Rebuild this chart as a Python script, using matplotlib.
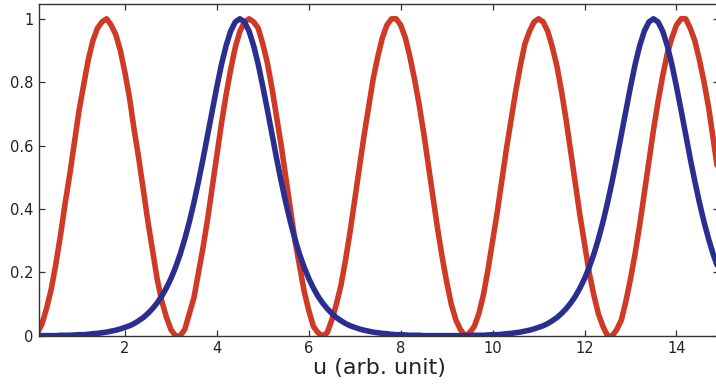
import numpy as np
import matplotlib
matplotlib.use("Agg")
import matplotlib.pyplot as plt
from matplotlib.ticker import FormatStrFormatter

# sample grid u = 0.0, 0.1, ... 15.0
u = np.linspace(0, 15, 151)

# red curve
red_y = [
    0.00, 0.01, 0.04, 0.09, 0.15, 0.23, 0.32, 0.42, 0.51, 0.61, 0.71, 0.79, 0.87, 0.93, 0.97, 0.99,
    1.00, 0.98, 0.95, 0.90, 0.83, 0.75, 0.65, 0.56, 0.46, 0.36, 0.27, 0.18, 0.11, 0.06, 0.02, 0.00,
    0.00, 0.02, 0.07, 0.12, 0.20, 0.28, 0.37, 0.47, 0.57, 0.67, 0.76, 0.84, 0.91, 0.96, 0.99, 1.00,
    0.99, 0.97, 0.92, 0.86, 0.78, 0.69, 0.60, 0.50, 0.40, 0.30, 0.22, 0.14, 0.08, 0.03, 0.01,
    0.00, 0.01, 0.05, 0.10, 0.16, 0.24, 0.33, 0.43, 0.53, 0.63, 0.72, 0.81, 0.88, 0.94, 0.98, 1.00,
    1.00, 0.98, 0.94, 0.88, 0.81, 0.73, 0.64, 0.54, 0.44, 0.34, 0.25, 0.17, 0.10, 0.05, 0.02, 0.00,
    0.01, 0.03, 0.07, 0.13, 0.21, 0.30, 0.39, 0.49, 0.59, 0.68, 0.77, 0.85, 0.92, 0.96, 0.99, 1.00,
    0.99, 0.96, 0.91, 0.85, 0.77, 0.68, 0.58, 0.48, 0.38, 0.29, 0.20, 0.13, 0.07, 0.03, 0.00,
    0.00, 0.02, 0.05, 0.11, 0.18, 0.26, 0.35, 0.45, 0.55, 0.65, 0.74, 0.82, 0.89, 0.94, 0.98, 1.00,
    1.00, 0.97, 0.93, 0.87, 0.80, 0.72, 0.62, 0.52, 0.42,
]

# blue curve
blue_y = [
    0.001, 0.001, 0.001, 0.001, 0.001, 0.001, 0.002, 0.002, 0.002, 0.003, 0.004, 0.004, 0.005,
    0.007, 0.008, 0.010, 0.012, 0.015, 0.018, 0.022, 0.027, 0.032, 0.039, 0.048, 0.058, 0.071,
    0.086, 0.104, 0.125, 0.151, 0.181, 0.216, 0.257, 0.305, 0.359, 0.420, 0.487, 0.559, 0.635,
    0.712, 0.786, 0.856, 0.915, 0.961, 0.990, 1.000,
    0.990, 0.961, 0.915, 0.856, 0.786, 0.712, 0.635, 0.559, 0.487, 0.420, 0.359, 0.305, 0.257,
    0.216, 0.181, 0.151, 0.125, 0.104, 0.086, 0.071, 0.058, 0.048, 0.039, 0.032, 0.027, 0.022,
    0.018, 0.015, 0.012, 0.010, 0.008, 0.007, 0.005, 0.004, 0.004, 0.003, 0.002, 0.002, 0.002,
    0.001, 0.001, 0.001, 0.001, 0.001, 0.001,
    0.001, 0.001, 0.001, 0.001, 0.001, 0.002, 0.002, 0.002, 0.003, 0.004, 0.004, 0.005, 0.007,
    0.008, 0.010, 0.012, 0.015, 0.018, 0.022, 0.027, 0.032, 0.039, 0.048, 0.058, 0.071, 0.086,
    0.104, 0.125, 0.151, 0.181, 0.216, 0.257, 0.305, 0.359, 0.420, 0.487, 0.559, 0.635, 0.712,
    0.786, 0.856, 0.915, 0.961, 0.990, 1.000,
    0.990, 0.961, 0.915, 0.856, 0.786, 0.712, 0.635, 0.559, 0.487, 0.420, 0.359, 0.305, 0.257,
    0.216, 0.181,
]

xticks = [2, 4, 6, 8, 10, 12, 14]
yticks = [0, 0.2, 0.4, 0.6, 0.8, 1]

plt.rcParams['font.family'] = ['DejaVu Sans']
txt = '#222222'

fig = plt.figure(figsize=(7.16, 3.87), dpi=100)
ax = fig.add_axes([0.0545, 0.132, 0.95, 0.858])

ax.plot(u, red_y, color='#cf3a26', lw=4.0, solid_capstyle='round', solid_joinstyle='round')
ax.plot(u, blue_y, color='#2a2f8f', lw=4.0, solid_capstyle='round', solid_joinstyle='round')

ax.set_xlim(0.13, 14.93)
ax.set_ylim(0, 1.047)
ax.set_xticks(xticks)
ax.set_yticks(yticks)
ax.yaxis.set_major_formatter(FormatStrFormatter('%g'))
ax.tick_params(direction='in', length=4.5, width=0.9, top=True, right=True,
               labelsize=10.5, labelcolor=txt, color='#333333', pad=4)
for s in ax.spines.values():
    s.set_color('#333333')
    s.set_linewidth(1.0)

ax.set_xlabel('u (arb. unit)', fontsize=16, color=txt, labelpad=1)

fig.savefig('out.png', dpi=100)
